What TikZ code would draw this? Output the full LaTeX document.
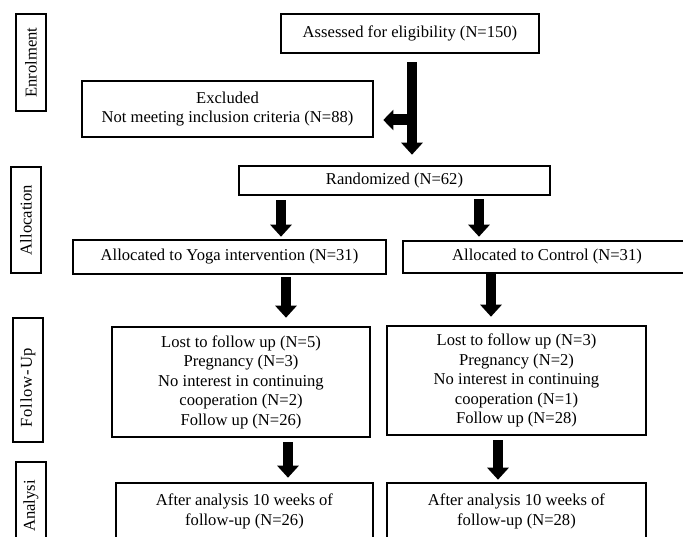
\documentclass[tikz,border=0pt]{standalone}
\usepackage{fontspec}
\setmainfont{Liberation Serif}
\usetikzlibrary{arrows.meta}
\tikzset{
  box/.style={draw, line width=2.6pt, rectangle, align=center, inner sep=0pt,
    font=\fontsize{16.6}{19.5}\selectfont},
  labbox/.style={draw, line width=2.4pt, rectangle, rotate=90, inner sep=0pt,
    minimum height=30pt, font=\fontsize{16.6}{19.5}\selectfont},
  labtext/.style={rotate=90, inner sep=0pt, font=\fontsize{16.6}{19.5}\selectfont},
  fat/.style={line width=9.5pt, -{Triangle[width=21pt,length=12pt]}},
}
\begin{document}
\begin{tikzpicture}[x=1pt,y=-1pt]
\useasboundingbox (0,0) rectangle (683,537);
\clip (0,0) rectangle (683,537);
% stage labels
\node[labbox, minimum width=97pt] (enr) at (31,62.5) {Enrolment};
\node[labbox, minimum width=106pt] (alo) at (26,220) {Allocation};
\node[labbox, minimum width=124pt] (fol) at (28,380) {};
\node[labtext] (folt) at (28,387.5) {\addfontfeature{LetterSpace=5}Follow-Up};
\node[labbox, minimum width=98pt] (ana) at (31,511) {};
\node[labtext] (anat) at (31,506) {Analysi};
% main boxes
\node[box, minimum width=258pt, minimum height=39pt] (assess) at (410,33.5) {Assessed for eligibility (N=150)};
\node[box, minimum width=291pt, minimum height=56pt] (excl) at (227.5,109) {Excluded\\Not meeting inclusion criteria (N=88)};
\node[box, minimum width=311pt, minimum height=29pt] (rand) at (394.5,180.5) {Randomized (N=62)};
\node[box, minimum width=313pt, minimum height=34pt] (yoga) at (229.5,257) {Allocated to Yoga intervention (N=31)};
\node[box, minimum width=288pt, minimum height=32pt] (ctrl) at (547,257) {Allocated to Control (N=31)};
\node[box, minimum width=258pt, minimum height=110pt] (ful) at (241,382) {Lost to follow up (N=5)\\Pregnancy (N=3)\\No interest in continuing\\cooperation (N=2)\\Follow up (N=26)};
\node[box, minimum width=259pt, minimum height=109pt] (fur) at (516.5,380.5) {Lost to follow up (N=3)\\Pregnancy (N=2)\\No interest in continuing\\cooperation (N=1)\\Follow up (N=28)};
\node[box, minimum width=257pt, minimum height=57pt] (anl) at (244.5,511.5) {After analysis 10 weeks of\\follow-up (N=26)};
\node[box, minimum width=259pt, minimum height=57pt] (anr) at (516.5,511.5) {After analysis 10 weeks of\\follow-up (N=28)};
% arrow columns
\coordinate (x1) at (412,0);
\coordinate (br) at (412,120);
\coordinate (x3) at (281,0);
\coordinate (x4) at (479,0);
\coordinate (x5) at (286,0);
\coordinate (x6) at (491,0);
\coordinate (x7) at (288,0);
\coordinate (x8) at (498,0);
% arrows
\draw[fat, shorten <=8pt, shorten >=10pt] (assess.south -| x1) -- (rand.north -| x1);
\draw[line width=11pt, -{Triangle[width=20pt,length=10pt]}, shorten >=9pt] (br) -- (br -| excl.east);
\draw[fat, shorten <=4pt, shorten >=2pt] (rand.south -| x3) -- (yoga.north -| x3);
\draw[fat, shorten <=3pt, shorten >=3pt] (rand.south -| x4) -- (ctrl.north -| x4);
\draw[fat, shorten <=2pt, shorten >=8pt] (yoga.south -| x5) -- (ful.north -| x5);
\draw[fat, shorten <=0pt, shorten >=8pt] (ctrl.south -| x6) -- (fur.north -| x6);
\draw[fat, shorten <=4pt, shorten >=4pt] (ful.south -| x7) -- (anl.north -| x7);
\draw[fat, shorten <=4pt, shorten >=2pt] (fur.south -| x8) -- (anr.north -| x8);
\end{tikzpicture}
\end{document}
